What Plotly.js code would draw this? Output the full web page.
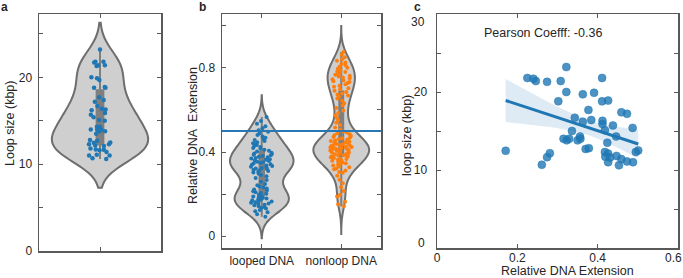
<!DOCTYPE html>
<html>
<head>
<meta charset="utf-8">
<script src="https://cdn.plot.ly/plotly-3.0.1.min.js"></script>
<style>html,body{margin:0;padding:0;background:#fff;}#chart{width:683px;height:278px;}</style>
</head>
<body>
<div id="chart"></div>
<script>
// Panel c: relative DNA extension (x) and loop size in kbp (y); panel a shows the same loop sizes
const relExtension = [0.171,0.225,0.240,0.246,0.274,0.261,0.274,0.281,0.308,0.302,0.322,0.322,0.315,0.323,0.329,0.336,0.343,0.350,0.356,0.357,0.363,0.363,0.370,0.378,0.377,0.384,0.391,0.411,0.411,0.426,0.412,0.412,0.418,0.438,0.424,0.446,0.418,0.426,0.419,0.426,0.431,0.447,0.453,0.459,0.459,0.473,0.473,0.488,0.487,0.495,0.501];
const loopSize = [12.46,21.8,21.7,21.4,21.3,10.67,11.65,12.16,21.4,18.8,23.2,20.0,14.0,13.8,14.0,15.0,16.7,13.8,14.3,14.0,19.7,16.2,12.7,12.8,17.7,16.4,19.9,21.8,18.8,18.9,16.3,15.9,15.1,15.7,13.5,14.3,12.3,12.1,11.7,11.0,11.6,11.8,10.6,11.4,17.4,17.2,11.1,11.0,15.4,12.3,12.5];

// Panel b: relative DNA extension of looped and nonloop DNA
const loopedExt = [0.092,0.104,0.113,0.118,0.124,
 0.131,0.134,0.138,0.142,0.146,0.149,0.152,0.155,0.158,0.161,0.164,0.167,0.170,0.173,0.176,0.179,0.182,0.185,0.188,0.191,
 0.197,0.201,0.205,0.209,0.213,0.217,0.221,0.226,0.231,0.236,0.242,0.248,
 0.258,0.267,0.276,0.284,0.291,0.297,
 0.303,0.306,0.309,0.312,0.315,0.318,0.321,0.324,0.327,0.330,0.333,0.336,0.339,0.342,0.345,0.348,0.351,0.354,0.357,0.360,0.363,0.366,0.369,0.372,0.375,0.378,0.381,0.384,0.387,0.390,0.393,0.397,
 0.402,0.406,0.411,0.415,0.419,0.424,0.428,0.433,0.437,0.442,0.447,0.452,0.457,0.462,0.468,0.474,0.481,0.488,0.496,0.504,0.513,0.523,0.534,0.548,0.567];
const nonloopExt = [0.142,0.151,0.163,0.188,0.196,0.214,0.232,0.251,0.268,0.287,
 0.301,0.305,0.312,0.318,0.322,0.327,0.331,0.336,0.339,0.344,0.347,0.351,0.355,0.358,0.361,0.364,0.367,0.369,0.372,0.375,0.377,0.379,
 0.381,0.384,0.386,0.389,0.391,0.393,0.396,0.398,0.401,0.403,0.405,0.407,0.408,0.410,0.412,0.414,0.416,0.417,0.419,0.421,0.423,0.424,0.426,0.428,0.430,0.431,0.433,0.436,0.438,0.441,0.444,0.447,0.449,0.452,0.455,0.458,0.461,0.465,0.468,0.472,0.476,0.480,0.484,0.489,0.493,0.498,
 0.506,0.517,0.528,0.539,0.551,0.563,0.574,0.586,0.598,0.609,0.621,0.632,0.644,0.655,0.663,0.669,0.674,0.679,
 0.686,0.692,0.699,0.704,0.711,0.716,0.722,0.728,0.733,0.737,0.742,0.746,0.751,0.755,0.759,0.763,0.768,0.772,0.776,0.781,0.785,0.790,0.796,0.801,0.807,0.813,0.819,0.826,0.834,0.842,0.851,0.863,0.876];

const categories = ['looped DNA', 'nonloop DNA'];
const threshold = [0.5];
const pearsonText = 'Pearson Coefff: -0.36';

const FONT = 'Arial, "Liberation Sans", sans-serif';
const BLUE = '#1f77b4', ORANGE = '#ff7f0e';
const VFILL = '#cfcfcf', VLINE = '#6e6e6e', BOXC = '#7f7f7f';

function violin(y, x0, xa, ya, color, bw, span, width, msize, jit) {
  return {
    type: 'violin', y: y, x0: x0, xaxis: xa, yaxis: ya,
    bandwidth: bw, spanmode: 'manual', span: span, width: width,
    scalemode: 'width',
    fillcolor: VFILL, line: {color: VLINE, width: 2},
    points: 'all', pointpos: 0, jitter: jit,
    marker: {color: color, size: msize, line: {width: 0}},
    box: {visible: true, width: 0.07, fillcolor: BOXC, line: {color: BOXC, width: 2}},
    meanline: {visible: false},
    hoverinfo: 'skip', showlegend: false
  };
}

// regression fit for panel c
const n = relExtension.length;
const mx = relExtension.reduce((a, b) => a + b, 0) / n;
const my = loopSize.reduce((a, b) => a + b, 0) / n;
let sxx = 0, sxy = 0;
for (let i = 0; i < n; i++) { sxx += (relExtension[i]-mx)**2; sxy += (relExtension[i]-mx)*(loopSize[i]-my); }
const slope = sxy / sxx, icpt = my - slope * mx;
let sse = 0;
for (let i = 0; i < n; i++) { sse += (loopSize[i] - (icpt + slope*relExtension[i]))**2; }
const sres = Math.sqrt(sse / (n - 2));
const xmin = Math.min(...relExtension), xmax = Math.max(...relExtension);
const gx = [], gy = [], up = [], lo = [];
for (let k = 0; k <= 60; k++) {
  const xv = xmin + (xmax - xmin) * k / 60;
  const yv = icpt + slope * xv;
  const se = sres * Math.sqrt(1/n + (xv-mx)**2 / sxx);
  gx.push(xv); gy.push(yv); up.push(yv + 2.01*se); lo.push(yv - 2.01*se);
}

const traces = [
  violin(loopSize, 0, 'x', 'y', BLUE, 1.7, [7.3, 26.3], 0.79, 4.5, 0.3),
  violin(loopedExt, 0, 'x2', 'y2', BLUE, 0.043, [-0.01, 0.67], 0.8, 4, 0.35),
  violin(nonloopExt, 1, 'x2', 'y2', ORANGE, 0.045, [0.01, 1.0], 0.7, 4, 0.4),
  {type: 'scatter', mode: 'markers', x: relExtension, y: loopSize, xaxis: 'x3', yaxis: 'y3',
   marker: {color: 'rgba(31,119,180,0.8)', size: 8, line: {color: 'rgba(31,119,180,0.9)', width: 0.5}},
   hoverinfo: 'skip', showlegend: false},
  {type: 'scatter', mode: 'lines', x: gx.concat(gx.slice().reverse()), y: up.concat(lo.slice().reverse()),
   xaxis: 'x3', yaxis: 'y3', fill: 'toself', fillcolor: 'rgba(31,119,180,0.15)', line: {width: 0},
   hoverinfo: 'skip', showlegend: false},
  {type: 'scatter', mode: 'lines', x: gx, y: gy, xaxis: 'x3', yaxis: 'y3',
   line: {color: BLUE, width: 3}, hoverinfo: 'skip', showlegend: false}
];

function ax(extra) {
  return Object.assign({
    showline: true, linecolor: '#595959', linewidth: 1.5, mirror: 'ticks',
    ticks: 'inside', ticklen: 4, tickwidth: 1, tickcolor: '#595959',
    showgrid: false, zeroline: false, fixedrange: true, ticklabeloverflow: 'allow',
    tickfont: {family: FONT, size: 12, color: '#262626'}
  }, extra);
}

const W = 683, H = 278;
const px = v => v / W, py = v => 1 - v / H;
const lbl = (t, x, y, xa) => ({text: t, xref: 'paper', yref: 'paper', x: px(x), y: py(y), xanchor: xa || 'center', yanchor: 'middle', showarrow: false, font: {size: 12, color: '#262626'}});

const layout = {
  width: W, height: H, margin: {l: 0, r: 0, t: 0, b: 0},
  paper_bgcolor: '#fff', plot_bgcolor: '#fff', violinmode: 'overlay',
  font: {family: FONT, size: 12, color: '#262626'},
  xaxis: ax({domain: [px(39), px(161)], anchor: 'y', range: [-0.5, 0.5], tickvals: [0], ticktext: ['']}),
  yaxis: ax({domain: [py(251), py(14)], anchor: 'x', range: [0, 27.3],
    tickvals: [0, 5, 10, 15, 20, 25], ticktext: ['0', '', '10', '', '20', ''], ticklabelstandoff: 3}),
  xaxis2: ax({domain: [px(222), px(381)], anchor: 'y2', range: [-0.5, 1.5], tickvals: [0, 1], ticktext: categories, ticklabelstandoff: 1}),
  yaxis2: ax({domain: [py(248), py(14)], anchor: 'x2', range: [-0.057, 1.057],
    tickvals: [0, 0.2, 0.4, 0.6, 0.8, 1.0], ticktext: ['0', '', '0.4', '', '0.8', ''], ticklabelstandoff: 3}),
  xaxis3: ax({domain: [px(437), px(678)], anchor: 'y3', range: [0, 0.6],
    tickvals: [0, 0.2, 0.4, 0.6], ticktext: ['0', '0.2', '0.4', ''], ticklabelstandoff: -2}),
  yaxis3: ax({domain: [py(248), py(14)], anchor: 'x3', range: [0, 30],
    tickvals: [0, 5, 10, 15, 20, 25, 30], ticktext: ['', '', '10', '', '20', '', ''], ticklabelstandoff: 6}),
  shapes: [
    {type: 'line', xref: 'x2 domain', yref: 'y2', x0: 0, x1: 1, y0: threshold[0], y1: threshold[0],
     line: {color: '#2878b5', width: 2}, layer: 'above'}
  ],
  annotations: [
    lbl('<b>a</b>', 4, 7), lbl('<b>b</b>', 202.5, 7), lbl('<b>c</b>', 417.5, 7),
    lbl('0.6', 673, 257.5), lbl('0', 427, 243, 'right'), lbl('30', 427, 22, 'right'),
    {text: 'Loop size (kbp)', xref: 'paper', yref: 'paper', x: px(10), y: py(124), textangle: -90, xanchor: 'center', yanchor: 'middle', showarrow: false, font: {size: 12.5}},
    {text: 'Relative DNA\u00a0 Extension', xref: 'paper', yref: 'paper', x: px(193), y: py(136), textangle: -90, xanchor: 'center', yanchor: 'middle', showarrow: false, font: {size: 12.5}},
    {text: 'loop size (kbp)', xref: 'paper', yref: 'paper', x: px(407), y: py(136), textangle: -90, xanchor: 'center', yanchor: 'middle', showarrow: false, font: {size: 12.5}},
    {text: 'Relative DNA Extension', xref: 'paper', yref: 'paper', x: px(567.5), y: py(271), xanchor: 'center', yanchor: 'middle', showarrow: false, font: {size: 12.5}},
    {text: pearsonText, xref: 'x3', yref: 'y3', x: 0.263, y: 27.6, xanchor: 'center', yanchor: 'middle', showarrow: false, font: {size: 12.5}}
  ]
};

Plotly.newPlot('chart', traces, layout, {staticPlot: true, displayModeBar: false});
</script>
</body>
</html>
